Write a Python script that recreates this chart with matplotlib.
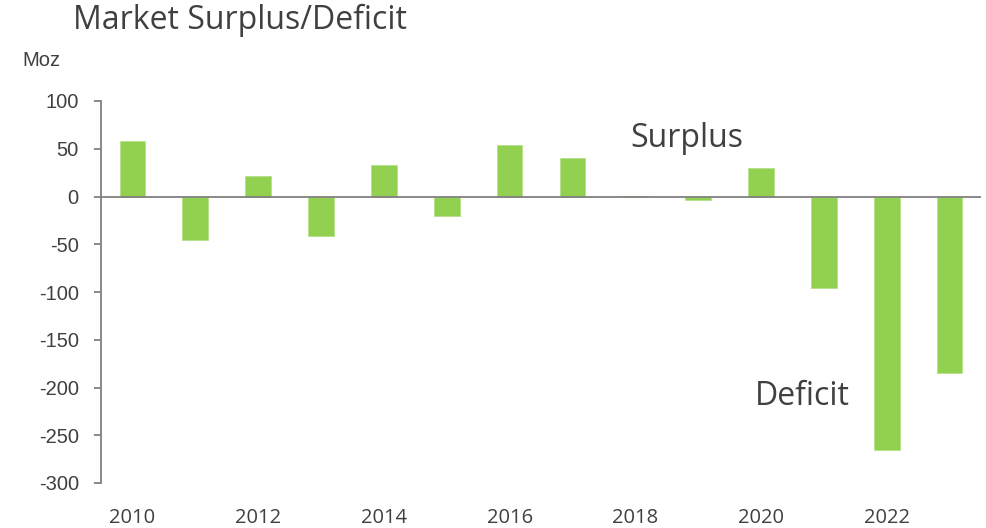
import numpy as np
import matplotlib.pyplot as plt

years = [2010, 2011, 2012, 2013, 2014, 2015, 2016, 2017, 2018, 2019, 2020, 2021, 2022, 2023]
balance = [58, -46, 21, -41, 33, -20, 54, 40, 1, -4, 30, -96, -265, -185]
yticks = [100, 50, 0, -50, -100, -150, -200, -250, -300]

plt.rcParams['font.family'] = ['Open Sans', 'DejaVu Sans']
grey = '#808080'
textc = '#404040'

fig = plt.figure(figsize=(9.87, 5.28), dpi=100)
ax = fig.add_axes([101/987, 1 - 483/528, 880/987, 382/528])

x = np.arange(len(years))
ax.bar(x, balance, width=0.41, color='#92D050', edgecolor='#B5E08A', linewidth=0.6, zorder=2)
ax.axhline(0, color=grey, lw=1.3, zorder=3)

ax.set_xlim(-0.5, len(years) - 0.5)
ax.set_ylim(-300, 100)
ax.set_yticks(yticks)
ax.set_yticklabels([str(v) for v in yticks], fontsize=14.5, color=textc, family='Liberation Sans')
ax.tick_params(axis='y', length=5, width=1.3, color=grey, pad=11)

ax.set_xticks(x[::2])
ax.set_xticklabels([str(y) for y in years[::2]], fontsize=14.5, color=textc)
ax.tick_params(axis='x', length=0, pad=18)

for s in ['top', 'right', 'bottom']:
    ax.spines[s].set_visible(False)
ax.spines['left'].set_color(grey)
ax.spines['left'].set_linewidth(1.3)

ax.text(8.82, 61, 'Surplus', fontsize=23, color=textc, ha='center', va='center')
ax.text(10.65, -209, 'Deficit', fontsize=23, color=textc, ha='center', va='center')

fig.text(73/987, 1 - 20/528, 'Market Surplus/Deficit', fontsize=23, color=textc, ha='left', va='center')
fig.text(22/987, 1 - 60/528, 'Moz', fontsize=14.5, color=textc, ha='left', va='center', family='Liberation Sans')

fig.savefig('out.png', dpi=100)
